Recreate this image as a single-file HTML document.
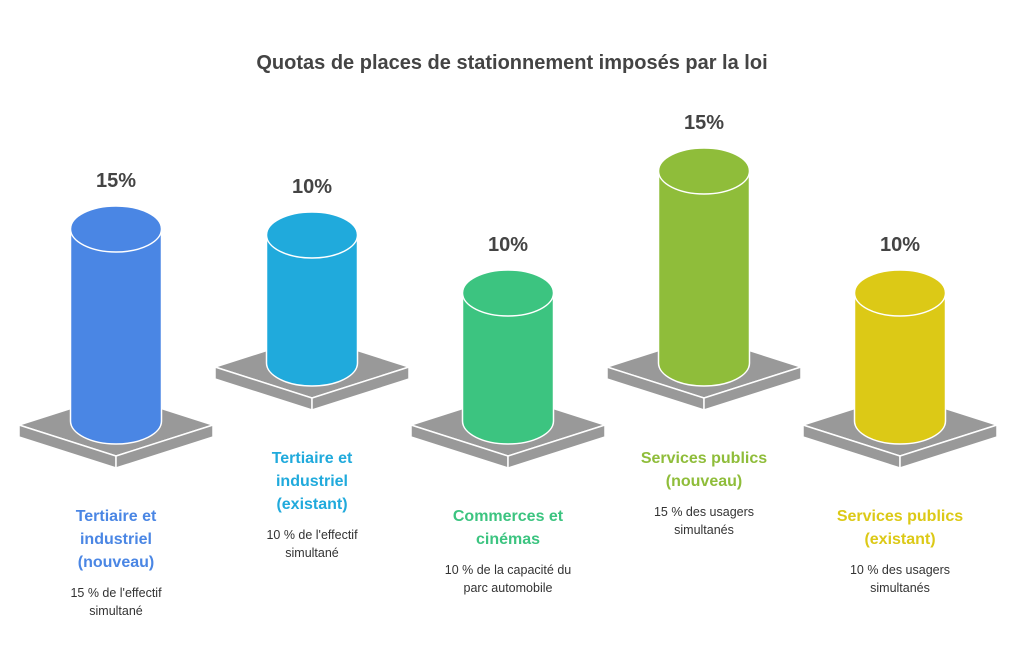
<!DOCTYPE html>
<html><head><meta charset="utf-8"><style>
html,body{margin:0;padding:0;background:#fff;}
svg{display:block;font-family:"Liberation Sans",Arial,sans-serif;}
</style></head><body>
<svg id="chart" width="1024" height="656" viewBox="0 0 1024 656">
<text x="512" y="69" text-anchor="middle" font-size="20" font-weight="bold" fill="#444">Quotas de places de stationnement imposés par la loi</text>
<g id="marks"></g>
</svg>
<script>
const categories = [["Tertiaire et","industriel","(nouveau)"],["Tertiaire et","industriel","(existant)"],["Commerces et","cinémas"],["Services publics","(nouveau)"],["Services publics","(existant)"]];
const values = [15,10,10,15,10];
const valueLabels = ["15%","10%","10%","15%","10%"];
const descriptions = [["15 % de l'effectif","simultané"],["10 % de l'effectif","simultané"],["10 % de la capacité du","parc automobile"],["15 % des usagers","simultanés"],["10 % des usagers","simultanés"]];
const colors = ["#4a86e4","#20aadc","#3cc480","#8fbd3a","#dcc916"];

const NS="http://www.w3.org/2000/svg";
const g=document.getElementById('marks');
function el(t,a){const e=document.createElementNS(NS,t);for(const k in a)e.setAttribute(k,a[k]);return e;}
function xPos(i){return 116+i*196;}
function baseY(i){return i%2===0?421:363;}
function hScale(v){return v*12.8;}
const rx=45.5, ry=23;
values.forEach((v,i)=>{
  const cx=xPos(i), by=baseY(i), py=by+4, ty=by-hScale(v);
  const pw=97, ph=31, th=12;
  const top=el('polygon',{points:`${cx-pw},${py} ${cx},${py-ph} ${cx+pw},${py} ${cx},${py+ph}`,fill:'#999',stroke:'#fff','stroke-width':1.5});
  
  
  g.appendChild(top);
  const lf=el('polygon',{points:`${cx-pw},${py} ${cx},${py+ph} ${cx},${py+ph+th} ${cx-pw},${py+th}`,fill:'#999',stroke:'#fff','stroke-width':1.5});
  
  
  g.appendChild(lf);
  const rf=el('polygon',{points:`${cx+pw},${py} ${cx},${py+ph} ${cx},${py+ph+th} ${cx+pw},${py+th}`,fill:'#999',stroke:'#fff','stroke-width':1.5});
  
  
  g.appendChild(rf);
  const body=el('path',{d:`M${cx-rx},${ty} L${cx-rx},${by} A${rx},${ry} 0 0 0 ${cx+rx},${by} L${cx+rx},${ty} Z`,fill:colors[i],stroke:'#fff','stroke-width':1.5});
  
  
  g.appendChild(body);
  const cap=el('ellipse',{cx:cx,cy:ty,rx:rx,ry:ry,fill:colors[i],stroke:'#fff','stroke-width':1.5});
  
  
  g.appendChild(cap);
  const vl=el('text',{x:cx,y:ty-ry-19,'text-anchor':'middle','font-size':20,'font-weight':'bold',fill:'#444'});
  vl.textContent=valueLabels[i];
  
  
  g.appendChild(vl);
  let ly=(i%2===0?521:463);
  const cl=el('text',{x:cx,y:ly,'text-anchor':'middle','font-size':16,'font-weight':'bold',fill:colors[i]});
  
  
  categories[i].forEach((s,j)=>{const t=el('tspan',{x:cx,dy:j?23:0});t.textContent=s;cl.appendChild(t);});
  g.appendChild(cl);
  const dy0=ly+(categories[i].length-1)*23+30;
  const dl=el('text',{x:cx,y:dy0,'text-anchor':'middle','font-size':12.5,fill:'#333'});
  
  
  descriptions[i].forEach((s,j)=>{const t=el('tspan',{x:cx,dy:j?18:0});t.textContent=s;dl.appendChild(t);});
  g.appendChild(dl);
});
</script>
</body></html>
